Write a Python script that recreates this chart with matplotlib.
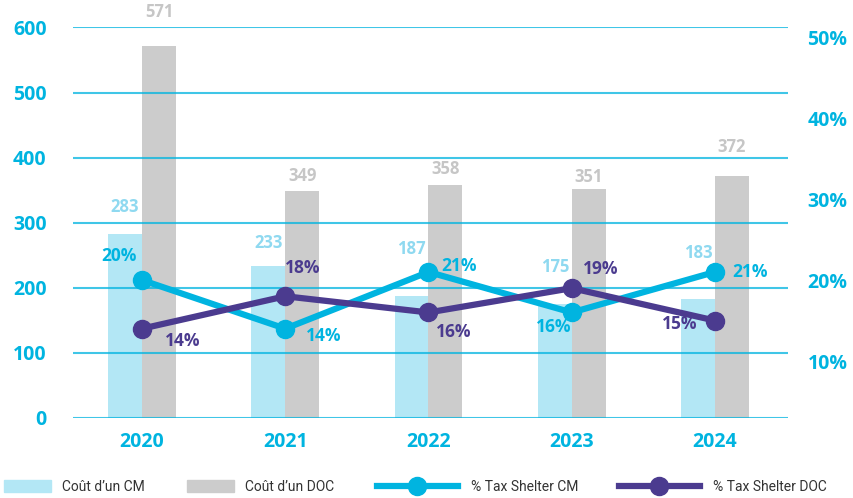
import matplotlib
matplotlib.use("Agg")
import matplotlib.pyplot as plt
from matplotlib.lines import Line2D
from matplotlib.patches import Patch
import numpy as np

years = ["2020", "2021", "2022", "2023", "2024"]
cout_cm = [283, 233, 187, 175, 183]
cout_doc = [571, 349, 358, 351, 372]
pct_cm = [20, 14, 21, 16, 21]
pct_doc = [14, 18, 16, 19, 15]

# décalages (pixels) des étiquettes, comme sur la maquette
lift_cm = [27, 23, 47, 37, 46]
lift_doc = [34, 15, 16, 12, 29]
off_cm = [(-23, 24), (38, -7), (31, 6), (-18, -15), (35, 0)]
off_doc = [(41, -12), (17, 28), (25, -20), (29, 19), (-35, -3)]

CYAN = "#00b4e0"; LCYAN = "#b3e7f5"; LBL_CM = "#8fd9f0"
GREY = "#cccccc"; LBL_DOC = "#c6c6c6"; PURPLE = "#4b3b8f"
plt.rcParams["font.family"] = ["Open Sans", "DejaVu Sans"]

fig = plt.figure(figsize=(8.54, 4.98), dpi=100)
ax = fig.add_axes([73/854, 1-417.7/498, (788-73)/854, (417.7-27.5)/498])
ax2 = ax.twinx()

x = np.arange(len(years)); w = 0.237
ax.bar(x - w/2, cout_cm, w, color=LCYAN, zorder=1)
ax.bar(x + w/2, cout_doc, w, color=GREY, zorder=1)
for xi, v, dy in zip(x, cout_cm, lift_cm):
    ax.annotate(str(v), (xi - w/2, v), xytext=(0, dy), textcoords="offset pixels",
                ha="center", va="center", fontsize=12, fontweight="bold", color=LBL_CM)
for xi, v, dy in zip(x, cout_doc, lift_doc):
    ax.annotate(str(v), (xi + w/2, v), xytext=(0, dy), textcoords="offset pixels",
                ha="center", va="center", fontsize=12, fontweight="bold", color=LBL_DOC)

ax.set_ylim(0, 600); ax.set_xlim(-0.482, 4.51)
ax.set_yticks(range(0, 601, 100))
for yv in range(0, 601, 100):
    ax.axhline(yv, color=CYAN, lw=1.5, alpha=0.75, zorder=2)
ax.set_xticks(x, years)
ax.tick_params(axis="x", length=0, pad=10, labelsize=14, labelcolor=CYAN)
ax.tick_params(axis="y", length=0, pad=19, labelsize=14, labelcolor=CYAN)
for t in ax.get_xticklabels() + ax.get_yticklabels():
    t.set_fontweight("bold")

ax2.plot(x, pct_cm, color=CYAN, lw=4.5, marker="o", ms=13, zorder=5)
ax2.plot(x, pct_doc, color=PURPLE, lw=4.5, marker="o", ms=13, zorder=5)
for xi, v, (dx, dy) in zip(x, pct_cm, off_cm):
    ax2.annotate(f"{v}%", (xi, v), xytext=(dx, dy), textcoords="offset pixels",
                 ha="center", va="center", fontsize=12.5, fontweight="bold", color=CYAN)
for xi, v, (dx, dy) in zip(x, pct_doc, off_doc):
    ax2.annotate(f"{v}%", (xi, v), xytext=(dx, dy), textcoords="offset pixels",
                 ha="center", va="center", fontsize=12.5, fontweight="bold", color=PURPLE)
ax2.set_ylim(3.0, 51.2)
ax2.set_yticks(range(10, 51, 10), [f"{t}%" for t in range(10, 51, 10)])
ax2.tick_params(axis="y", length=0, pad=14, labelsize=14, labelcolor=CYAN)
for t in ax2.get_yticklabels():
    t.set_fontweight("bold")

for a in (ax, ax2):
    for s in a.spines.values():
        s.set_visible(False)

# légende : 4 entrées posées le long du bas
items = [
    (Patch(color=LCYAN), "Coût d’un CM", 4, 3.4, 0.8),
    (Patch(color=GREY), "Coût d’un DOC", 187, 3.4, 0.8),
    (Line2D([], [], color=CYAN, lw=4.5, marker="o", ms=13), "% Tax Shelter CM", 377, 5.8, 1.0),
    (Line2D([], [], color=PURPLE, lw=4.5, marker="o", ms=13), "% Tax Shelter DOC", 619, 5.8, 1.0),
]
for h, lab, px, hl, tp in items:
    fig.legend([h], [lab], loc="center left", bbox_to_anchor=(px/854, 1-487/498),
               frameon=False, borderpad=0, borderaxespad=0, handlelength=hl,
               handleheight=0.95, handletextpad=tp,
               prop={"family": ["Roboto", "DejaVu Sans"], "size": 10}, labelcolor="#333333")

fig.savefig("out.png", dpi=100)
